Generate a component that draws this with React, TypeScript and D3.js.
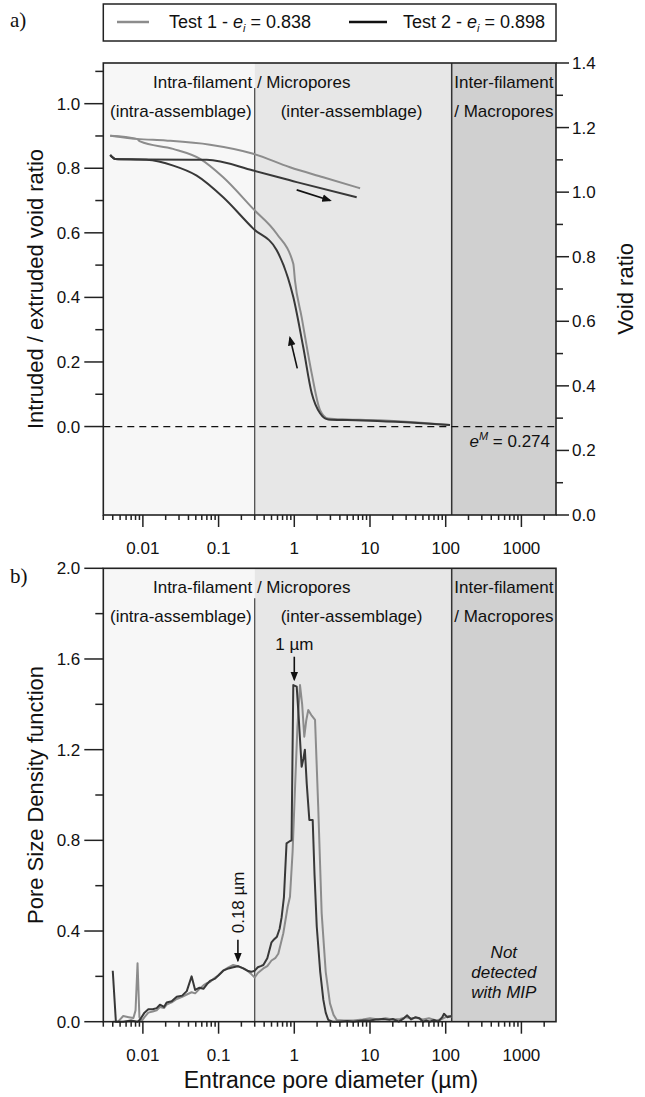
import React from "react";
import * as d3 from "d3";

// ---- panel a: intruded / extruded void ratio vs entrance pore diameter (µm)
const t1IntrD = [0.0037, 0.0083, 0.0092, 0.025, 0.057, 0.115, 0.287, 0.586, 0.97, 1.02, 1.25, 1.7, 2.19, 2.81, 5, 10, 30, 114];
const t1IntrV = [0.901, 0.891, 0.883, 0.86, 0.829, 0.772, 0.674, 0.597, 0.504, 0.453, 0.339, 0.164, 0.051, 0.025, 0.022, 0.02, 0.015, 0.005];
const t1ExtrD = [0.0037, 0.0083, 0.02, 0.077, 0.287, 0.877, 2.41, 7.4];
const t1ExtrV = [0.901, 0.891, 0.886, 0.873, 0.845, 0.803, 0.772, 0.738];
const t2IntrD = [0.0037, 0.0043, 0.0112, 0.0252, 0.0514, 0.115, 0.287, 0.586, 0.826, 0.97, 1.31, 1.7, 2.19, 2.81, 5, 10, 30, 114];
const t2IntrV = [0.841, 0.829, 0.826, 0.808, 0.777, 0.71, 0.613, 0.546, 0.46, 0.401, 0.247, 0.103, 0.041, 0.022, 0.02, 0.018, 0.013, 0.005];
const t2ExtrD = [0.0037, 0.0043, 0.0112, 0.0697, 0.287, 1.076, 6.67];
const t2ExtrV = [0.841, 0.829, 0.827, 0.826, 0.793, 0.757, 0.71];

// ---- panel b: pore size density function
const t1PsdD = [0.004, 0.0047, 0.0055, 0.0065, 0.0075, 0.008, 0.0085, 0.009, 0.0095, 0.0105, 0.0118, 0.0135, 0.0152, 0.0168, 0.019, 0.0206, 0.024, 0.028, 0.033, 0.038, 0.044, 0.049, 0.056, 0.063, 0.07, 0.077, 0.09, 0.1, 0.115, 0.135, 0.156, 0.18, 0.212, 0.24, 0.27, 0.3, 0.33, 0.39, 0.44, 0.5, 0.56, 0.615, 0.716, 0.818, 0.877, 0.95, 1.02, 1.1, 1.19, 1.27, 1.355, 1.44, 1.53, 1.7, 1.88, 2.07, 2.3, 2.6, 2.96, 3.3, 3.63, 4.5, 6, 8, 10, 13, 16, 20, 25, 30, 35, 40, 50, 60, 75, 90, 100, 110, 120];
const t1PsdV = [0.0, 0.0, 0.025, 0.02, 0.016, 0.05, 0.258, 0.02, 0.0, 0.02, 0.04, 0.045, 0.05, 0.065, 0.06, 0.075, 0.085, 0.1, 0.11, 0.12, 0.13, 0.125, 0.145, 0.16, 0.17, 0.175, 0.195, 0.205, 0.225, 0.24, 0.25, 0.245, 0.235, 0.225, 0.21, 0.195, 0.215, 0.235, 0.245, 0.27, 0.28, 0.3, 0.39, 0.507, 0.551, 0.75, 1.022, 1.3, 1.485, 1.4, 1.257, 1.33, 1.375, 1.35, 1.331, 0.948, 0.478, 0.22, 0.081, 0.03, 0.008, 0.005, 0.005, 0.01, 0.015, 0.01, 0.015, 0.01, 0.012, 0.02, 0.015, 0.018, 0.01, 0.015, 0.005, 0.012, 0.02, 0.025, 0.022];
const t2PsdD = [0.004, 0.0044, 0.0055, 0.007, 0.0085, 0.0092, 0.0105, 0.0118, 0.0135, 0.0152, 0.0168, 0.019, 0.0206, 0.024, 0.028, 0.033, 0.038, 0.044, 0.049, 0.056, 0.063, 0.07, 0.077, 0.09, 0.1, 0.115, 0.135, 0.156, 0.18, 0.212, 0.24, 0.27, 0.3, 0.33, 0.36, 0.39, 0.44, 0.5, 0.53, 0.59, 0.64, 0.68, 0.73, 0.79, 0.86, 0.92, 0.97, 1.076, 1.14, 1.25, 1.32, 1.38, 1.46, 1.58, 1.75, 1.85, 1.98, 2.2, 2.42, 2.6, 2.81, 3.2, 4, 5, 6, 8, 10, 12, 15, 18, 20, 24, 28, 31, 35, 40, 45, 50, 55, 62, 70, 80, 90, 95, 105, 120];
const t2PsdV = [0.225, 0.0, 0.0, 0.005, 0.0, 0.01, 0.04, 0.055, 0.055, 0.06, 0.075, 0.065, 0.085, 0.09, 0.11, 0.115, 0.135, 0.2, 0.14, 0.15, 0.145, 0.165, 0.18, 0.19, 0.205, 0.225, 0.235, 0.24, 0.245, 0.235, 0.225, 0.22, 0.225, 0.24, 0.245, 0.25, 0.28, 0.35, 0.36, 0.375, 0.41, 0.46, 0.55, 0.787, 0.795, 0.8, 1.485, 1.478, 1.35, 1.125, 1.16, 1.2, 1.05, 0.89, 0.89, 0.65, 0.42, 0.22, 0.096, 0.04, 0.008, 0.0, 0.0, 0.003, 0.0, 0.005, 0.005, 0.01, 0.012, 0.008, 0.012, 0.0, 0.015, 0.028, 0.01, 0.02, 0.015, 0.0, 0.005, 0.0, 0.008, 0.0, 0.02, 0.035, 0.02, 0.025];

// pore classes (µm limits)
const classLimits = [0.003, 0.3, 120, 2864];
const classFills = ["#f7f7f7", "#e7e7e7", "#d0d0d0"];

const leftTicksA = d3.range(0, 1.15, 0.1);
const rightTicksA = d3.range(0, 1.45, 0.1);
const leftTicksB = d3.range(0, 2.05, 0.2);

const SANS = "'Liberation Sans', Arial, Helvetica, sans-serif";
const SERIF = "'Liberation Serif', 'Times New Roman', serif";
const GREY = "#8c8c8c";
const DARK = "#383838";
const FRAME = "#222";

const left = 103.3, right = 556;
const aTop = 63, aBot = 515, bTop = 568.3, bBot = 1021.7;

const x = d3.scaleLog().domain([0.003, 2864]).range([left, right]);
const yA = d3.scaleLinear().domain([-0.274, 1.126]).range([aBot, aTop]);
const yAR = d3.scaleLinear().domain([0, 1.4]).range([aBot, aTop]);
const yB = d3.scaleLinear().domain([0, 2]).range([bBot, bTop]);

const zip = (a: number[], b: number[]) => a.map((d, i) => [d, b[i]] as [number, number]);

function lineA(d: number[], v: number[]) {
  return d3.line<[number, number]>().x(p => x(p[0])).y(p => yA(p[1])).curve(d3.curveMonotoneX)(zip(d, v)) || "";
}
function lineB(d: number[], v: number[]) {
  return d3.line<[number, number]>().x(p => x(p[0])).y(p => yB(p[1]))(zip(d, v)) || "";
}

const isMajor = (t: number) => Math.abs(Math.log10(t) - Math.round(Math.log10(t))) < 1e-6;
const fmtX = (t: number) => (t < 1 ? String(+t.toFixed(3)) : String(Math.round(t)));

function XAxis({ y }: { y: number }) {
  const ticks = x.ticks().filter(t => t >= 0.003 && t <= 2864);
  return (
    <g>
      {ticks.map((t, i) => (
        <line key={i} x1={x(t)} x2={x(t)} y1={y} y2={y + (isMajor(t) ? 12 : 5)} stroke={FRAME} strokeWidth={1.5} />
      ))}
      {ticks.filter(isMajor).map((t, i) => (
        <text key={"l" + i} x={x(t)} y={y + 39} textAnchor="middle" fontSize={17} fontFamily={SANS} fill="#111">
          {fmtX(t)}
        </text>
      ))}
    </g>
  );
}

function YAxisLeft({ ticks, scale, maxLabel }: { ticks: number[]; scale: (v: number) => number; maxLabel: number }) {
  return (
    <g>
      {ticks.map((t, i) => {
        const major = i % 2 === 0;
        return (
          <g key={i}>
            <line x1={left - (major ? 19 : 8)} x2={left} y1={scale(t)} y2={scale(t)} stroke={FRAME} strokeWidth={1.5} />
            {major && t <= maxLabel + 0.01 && (
              <text x={left - 23} y={scale(t) + 6} textAnchor="end" fontFamily={SANS} fontSize={17} fill="#111">
                {t.toFixed(1)}
              </text>
            )}
          </g>
        );
      })}
    </g>
  );
}

function Regions({ top, bot, lineStart }: { top: number; bot: number; lineStart: number }) {
  return (
    <g>
      {classFills.map((f, i) => (
        <rect key={i} x={x(classLimits[i])} y={top} width={x(classLimits[i + 1]) - x(classLimits[i])} height={bot - top} fill={f} />
      ))}
      <line x1={x(0.3)} x2={x(0.3)} y1={lineStart} y2={bot} stroke="#444" strokeWidth={1.2} />
      <line x1={x(120)} x2={x(120)} y1={top} y2={bot} stroke="#333" strokeWidth={1.5} />
    </g>
  );
}

function ClassLabels({ top }: { top: number }) {
  const mid = (x(120) + x(2864)) / 2;
  return (
    <g fontFamily={SANS} fontSize={17} fill="#111">
      <text x={x(0.3) - 3} y={top + 25} textAnchor="middle">Intra-filament / Micropores</text>
      <text x={x(0.3) - 3} y={top + 54} textAnchor="end">(intra-assemblage)</text>
      <text x={x(0.3) + 26} y={top + 54}>(inter-assemblage)</text>
      <text x={mid} y={top + 25} textAnchor="middle">Inter-filament</text>
      <text x={mid} y={top + 54} textAnchor="middle">/ Macropores</text>
    </g>
  );
}

function Arrow({ x1, y1, x2, y2 }: { x1: number; y1: number; x2: number; y2: number }) {
  return <line x1={x1} y1={y1} x2={x2} y2={y2} stroke="#111" strokeWidth={1.6} markerEnd="url(#ah)" />;
}

export default function App() {
  const macroMid = (x(120) + x(2864)) / 2;
  return (
    <svg width={645} height={1097} style={{ position: "absolute", left: 0, top: 0, background: "#fff" }}>
      <defs>
        <marker id="ah" viewBox="0 0 10 10" refX="8" refY="5" markerWidth="6" markerHeight="6" orient="auto">
          <path d="M0,1 L10,5 L0,9 z" fill="#111" />
        </marker>
      </defs>

      {/* legend */}
      <rect x={left} y={4} width={right - left} height={37} fill="#fff" stroke={FRAME} strokeWidth={1.5} />
      <line x1={117} x2={149} y1={22} y2={22} stroke={GREY} strokeWidth={2.5} />
      <text x={169} y={28} fontFamily={SANS} fontSize={18} fill="#111">
        Test 1 - <tspan fontStyle="italic">e</tspan>
        <tspan fontStyle="italic" fontSize={11} dy={4}>i</tspan>
        <tspan dy={-4}> = 0.838</tspan>
      </text>
      <line x1={349} x2={387} y1={22} y2={22} stroke="#111" strokeWidth={2.5} />
      <text x={403} y={28} fontFamily={SANS} fontSize={18} fill="#111">
        Test 2 - <tspan fontStyle="italic">e</tspan>
        <tspan fontStyle="italic" fontSize={11} dy={4}>i</tspan>
        <tspan dy={-4}> = 0.898</tspan>
      </text>

      <text x={10} y={27} fontFamily={SERIF} fontSize={21} fill="#111">a)</text>
      <text x={10} y={583} fontFamily={SERIF} fontSize={21} fill="#111">b)</text>

      {/* ---------- panel a ---------- */}
      <Regions top={aTop} bot={aBot} lineStart={aTop + 25} />
      <ClassLabels top={aTop} />
      <line x1={left} x2={right} y1={yA(0)} y2={yA(0)} stroke="#111" strokeWidth={1.3} strokeDasharray="7,5" />
      <text x={550} y={yA(0) + 20} textAnchor="end" fontFamily={SANS} fontSize={17} fill="#111">
        <tspan fontStyle="italic">e</tspan>
        <tspan fontStyle="italic" fontSize={11} dy={-7}>M</tspan>
        <tspan dy={7}> = 0.274</tspan>
      </text>

      <path d={lineA(t1ExtrD, t1ExtrV)} fill="none" stroke={GREY} strokeWidth={2} />
      <path d={lineA(t1IntrD, t1IntrV)} fill="none" stroke={GREY} strokeWidth={2} />
      <path d={lineA(t2ExtrD, t2ExtrV)} fill="none" stroke={DARK} strokeWidth={2} />
      <path d={lineA(t2IntrD, t2IntrV)} fill="none" stroke={DARK} strokeWidth={2} />
      <Arrow x1={x(1.076)} y1={yA(0.733)} x2={x(2.96)} y2={yA(0.7)} />
      <Arrow x1={x(1.095)} y1={yA(0.18)} x2={x(0.877)} y2={yA(0.275)} />

      <rect x={left} y={aTop} width={right - left} height={aBot - aTop} fill="none" stroke={FRAME} strokeWidth={1.6} />
      <YAxisLeft ticks={leftTicksA} scale={yA} maxLabel={1.0} />
      {rightTicksA.map((t, i) => {
        const major = i % 2 === 0;
        return (
          <g key={i}>
            <line x1={right} x2={right + (major ? 13 : 7)} y1={yAR(t)} y2={yAR(t)} stroke={FRAME} strokeWidth={1.5} />
            {major && (
              <text x={right + 16} y={yAR(t) + 6} fontFamily={SANS} fontSize={17} fill="#111">
                {t.toFixed(1)}
              </text>
            )}
          </g>
        );
      })}
      <XAxis y={aBot} />
      <text transform={`translate(43,${(aTop + aBot) / 2}) rotate(-90)`} textAnchor="middle" fontFamily={SANS} fontSize={22} fill="#111">
        Intruded / extruded void ratio
      </text>
      <text transform={`translate(633,${(aTop + aBot) / 2}) rotate(-90)`} textAnchor="middle" fontFamily={SANS} fontSize={22} fill="#111">
        Void ratio
      </text>

      {/* ---------- panel b ---------- */}
      <Regions top={bTop} bot={bBot} lineStart={bTop + 30} />
      <ClassLabels top={bTop} />
      <path d={lineB(t1PsdD, t1PsdV)} fill="none" stroke={GREY} strokeWidth={2} strokeLinejoin="round" />
      <path d={lineB(t2PsdD, t2PsdV)} fill="none" stroke={DARK} strokeWidth={2} strokeLinejoin="round" />

      <text x={x(1)} y={yB(1.64)} textAnchor="middle" fontFamily={SANS} fontSize={17} fill="#111">1 µm</text>
      <Arrow x1={x(1)} y1={yB(1.61)} x2={x(1)} y2={yB(1.51)} />
      <text transform={`translate(${x(0.18) + 6},${yB(0.39)}) rotate(-90)`} fontFamily={SANS} fontSize={17} fill="#111">0.18 µm</text>
      <Arrow x1={x(0.18)} y1={yB(0.362)} x2={x(0.18)} y2={yB(0.27)} />

      <g fontFamily={SANS} fontSize={17} fontStyle="italic" fill="#111" textAnchor="middle">
        <text x={macroMid} y={958}>Not</text>
        <text x={macroMid} y={978}>detected</text>
        <text x={macroMid} y={998}>with MIP</text>
      </g>

      <rect x={left} y={bTop} width={right - left} height={bBot - bTop} fill="none" stroke={FRAME} strokeWidth={1.6} />
      <YAxisLeft ticks={leftTicksB} scale={yB} maxLabel={2.0} />
      <XAxis y={bBot} />
      <text transform={`translate(43,${(bTop + bBot) / 2}) rotate(-90)`} textAnchor="middle" fontFamily={SANS} fontSize={22} fill="#111">
        Pore Size Density function
      </text>
      <text x={331} y={1088} textAnchor="middle" fontFamily={SANS} fontSize={23} fill="#111">
        Entrance pore diameter (µm)
      </text>
    </svg>
  );
}
